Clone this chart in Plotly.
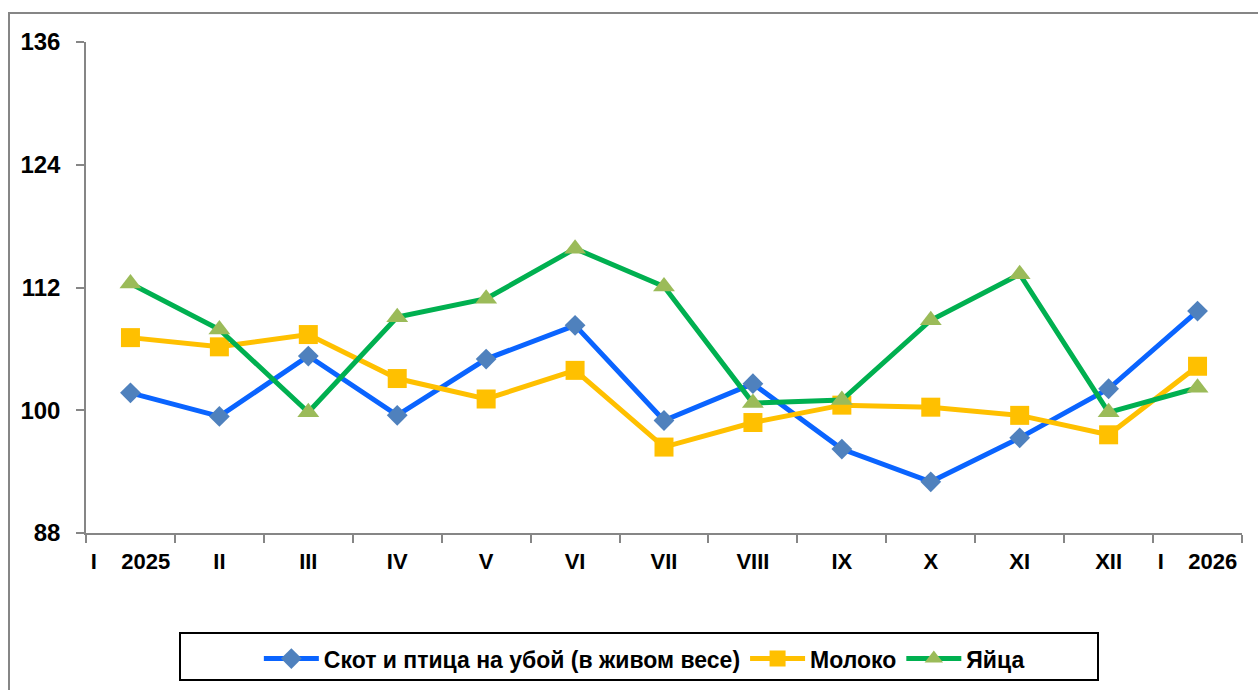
import plotly.graph_objects as go

categories = ["I 2025", "II", "III", "IV", "V", "VI", "VII", "VIII", "IX", "X", "XI", "XII", "I 2026"]
tick_labels = ["I\u00a0\u00a0\u00a0\u00a02025", "II", "III", "IV", "V", "VI", "VII", "VIII", "IX", "X", "XI", "XII",
               "I\u00a0\u00a0\u00a0\u00a02026"]

livestock = [101.7, 99.4, 105.3, 99.5, 105.0, 108.3, 99.0, 102.6, 96.2, 93.0, 97.3, 102.1, 109.7]
milk = [107.1, 106.2, 107.4, 103.1, 101.1, 103.9, 96.4, 98.8, 100.5, 100.3, 99.5, 97.6, 104.3]
eggs = [112.4, 107.9, 99.8, 109.1, 110.9, 115.8, 112.1, 100.7, 101.0, 108.8, 113.3, 99.8, 102.2]

y_ticks = [88, 100, 112, 124, 136]

FONT = "Liberation Sans, Arial, sans-serif"

fig = go.Figure()
fig.add_trace(go.Scatter(
    x=categories, y=livestock, name="Скот и птица на убой (в живом весе)",
    mode="lines+markers",
    line=dict(color="#0A64FF", width=5),
    marker=dict(symbol="diamond", size=16, color="#4F81BD"),
))
fig.add_trace(go.Scatter(
    x=categories, y=milk, name="Молоко",
    mode="lines+markers",
    line=dict(color="#FFC000", width=5),
    marker=dict(symbol="square", size=19, color="#FFC000"),
))
fig.add_trace(go.Scatter(
    x=categories, y=eggs, name="Яйца",
    mode="lines+markers",
    line=dict(color="#00B050", width=5),
    marker=dict(symbol="triangle-up", size=19, color="#9BBB59"),
))

fig.update_layout(
    width=1258, height=690,
    margin=dict(l=86, r=16, t=42, b=157, autoexpand=False),
    paper_bgcolor="white", plot_bgcolor="white",
    font=dict(family=FONT, color="black"),
    showlegend=True,
    legend=dict(
        orientation="h", x=0.483, xanchor="center", y=-0.212, yanchor="top",
        font=dict(size=23, family=FONT, color="black", weight="bold"),
        bgcolor="rgba(0,0,0,0)", borderwidth=0, itemwidth=55,
    ),
    xaxis=dict(
        type="category", categoryorder="array", categoryarray=categories,
        tickmode="array", tickvals=categories, ticktext=tick_labels,
        range=[-0.5, len(categories) - 0.5],
        tickson="boundaries", ticks="outside", ticklen=8, tickcolor="#868686", tickwidth=1.5,
        showline=True, linecolor="#868686", linewidth=1.5,
        showgrid=False, zeroline=False, tickangle=0, automargin=False,
        tickfont=dict(size=22, family=FONT, color="black", weight="bold"),
        ticklabelstandoff=8,
    ),
    yaxis=dict(
        range=[88, 136], tickmode="array", tickvals=y_ticks,
        ticks="outside", ticklen=8, tickcolor="#868686", tickwidth=1.5,
        showline=True, linecolor="#868686", linewidth=1.5,
        showgrid=False, zeroline=False, automargin=False,
        tickfont=dict(size=24, family=FONT, color="black", weight="bold"),
        ticklabelstandoff=11,
    ),
    shapes=[
        # outer chart frame
        dict(type="rect", xref="paper", yref="paper",
             x0=(9 - 86) / 1156, x1=1.2, y0=-0.5, y1=(533 - 13) / 491,
             line=dict(color="#868686", width=2), fillcolor="rgba(0,0,0,0)", layer="below"),
        # legend box
        dict(type="rect", xref="paper", yref="paper",
             x0=(180 - 86) / 1156, x1=(1098 - 86) / 1156,
             y0=(533 - 680) / 491, y1=(533 - 633) / 491,
             line=dict(color="black", width=2), fillcolor="rgba(0,0,0,0)"),
    ],
)

fig.write_html("out.html", config={"displayModeBar": False},
               post_script="document.body.style.margin='0';")
